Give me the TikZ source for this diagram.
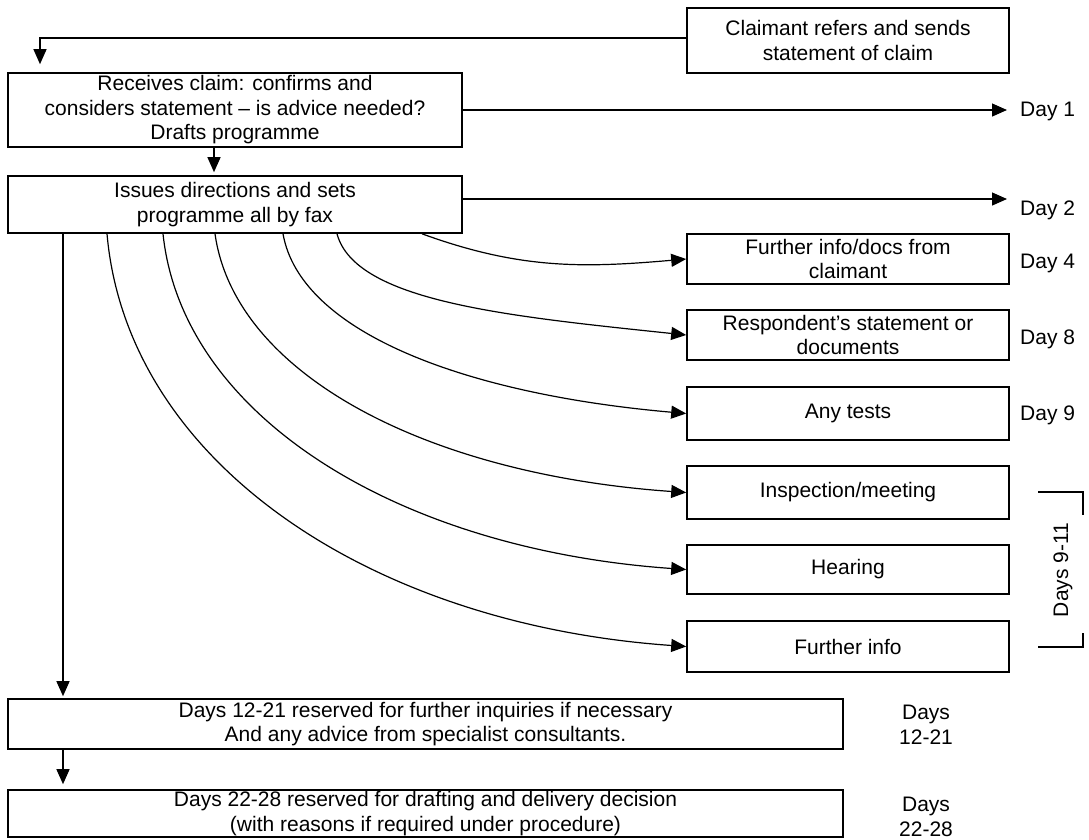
\documentclass[tikz,border=0pt]{standalone}
\usepackage{fontspec}
\setmainfont{Liberation Sans}
\usetikzlibrary{arrows.meta}

\begin{document}
\begin{tikzpicture}[x=1pt,y=1pt,
        box/.style={draw,line width=1.6pt,inner sep=0pt,align=center,font=\fontsize{21}{24.5}\selectfont},
        arr/.style={line width=1.2pt,-{Triangle[length=15pt,width=13pt]}},
        lbl/.style={inner sep=0pt,align=center,font=\fontsize{21}{24.5}\selectfont}]
        \useasboundingbox (0,0) rectangle (1089,-839);
        % boxes
        \node[box,minimum width=322pt,minimum height=65pt] (claim) at (848,-40.5) {Claimant refers and sends\\statement of claim};
        \node[box,minimum width=454pt,minimum height=74pt] (receive) at (235,-110) {Receives claim: confirms and\\considers statement -- is advice needed?\\Drafts programme};
        \node[box,minimum width=454pt,minimum height=57pt] (issue) at (235,-204.5) {Issues directions and sets\\programme all by fax};
        \node[box,minimum width=322pt,minimum height=50pt] (docs) at (848,-259) {Further info/docs from\\claimant};
        \node[box,minimum width=322pt,minimum height=50pt] (resp) at (848,-335) {Respondent's statement or\\documents};
        \node[box,minimum width=322pt,minimum height=53pt] (tests) at (848,-413.5) {Any tests};
        \node[box,minimum width=322pt,minimum height=53pt] (inspect) at (848,-492.5) {Inspection/meeting};
        \node[box,minimum width=322pt,minimum height=49pt] (hearing) at (848,-569.5) {Hearing};
        \node[box,minimum width=322pt,minimum height=51pt] (finfo) at (848,-646.5) {Further info};
        \node[box,minimum width=835pt,minimum height=50pt] (reserveA) at (425.5,-724) {Days 12-21 reserved for further inquiries if necessary\\And any advice from specialist consultants.};
        \node[box,minimum width=835pt,minimum height=47pt] (reserveB) at (425.5,-813.5) {Days 22-28 reserved for drafting and delivery decision\\(with reasons if required under procedure)};
        % day labels
        \node[lbl,anchor=west] (day1) at (1020,-111) {Day 1};
        \node[lbl,anchor=west] (day2) at (1020,-210) {Day 2};
        \node[lbl,anchor=west] (day4) at (1020,-263) {Day 4};
        \node[lbl,anchor=west] (day8) at (1020,-339) {Day 8};
        \node[lbl,anchor=west] (day9) at (1020,-415) {Day 9};
        \node[lbl,rotate=90] (days911) at (1063,-570) {Days 9-11};
        \node[lbl] (daysA) at (926,-725) {Days\\12-21};
        \node[lbl] (daysB) at (926,-817) {Days\\22-28};
        \coordinate (trunk) at (63,0);
        \coordinate (iss) at ([yshift=5.5pt]issue.east);
        % straight arrows
        \draw[arr] ([yshift=2.5pt]claim.west) -| ([xshift=-195pt,yshift=8pt]receive.north);
        \draw[arr] ([xshift=-21pt]receive.south) -- ([xshift=-21pt,yshift=3pt]issue.north);
        \draw[arr,shorten >=13pt] (receive.east) -- (receive.east -| day1.west);
        \draw[arr,shorten >=13pt] (iss) -- (iss -| day2.west);
        \draw[arr] (issue.south -| trunk) -- ([yshift=2pt]reserveA.north -| trunk);
        \draw[arr] (reserveA.south -| trunk) -- ([yshift=5pt]reserveB.north -| trunk);
        % curved arrows
        \draw[arr] ([xshift=187pt]issue.south) to[out=-20,in=185] (docs.west);
        \draw[arr] ([xshift=102pt]issue.south) to[out=-75,in=174,out distance=70pt,in distance=180pt] (resp.west);
        \draw[arr] ([xshift=48pt]issue.south) to[out=-80,in=175,out distance=100pt,in distance=222pt] (tests.west);
        \draw[arr] ([xshift=-20pt]issue.south) to[out=-82,in=176,out distance=142pt,in distance=260pt] (inspect.west);
        \draw[arr] ([xshift=-72pt]issue.south) to[out=-84,in=176,out distance=184pt,in distance=288pt] (hearing.west);
        \draw[arr] ([xshift=-128pt]issue.south) to[out=-85,in=176,out distance=228pt,in distance=319pt] (finfo.west);
        % bracket for days 9-11
        \draw[line width=1.2pt] (1038,-492) -| (1083,-515);
        \draw[line width=1.2pt] (1038,-647) -| (1083,-633);
\end{tikzpicture}
\end{document}
